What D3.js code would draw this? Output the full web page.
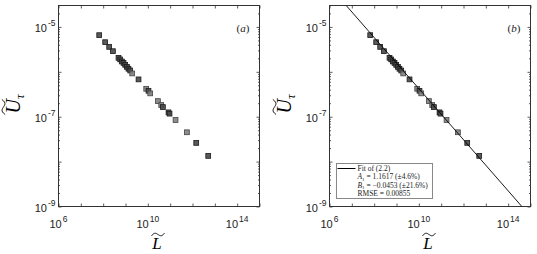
<!DOCTYPE html>
<html>
<head>
<meta charset="utf-8">
<script src="https://cdn.jsdelivr.net/npm/d3@7"></script>
<style>
  body { margin: 0; background: #fff; }
  svg { display: block; }
</style>
</head>
<body>
<div id="chart-container"></div>
<script>
// 数据: 无量纲长度 L~ 与速度 U~_tau
const L = [6.65e7, 1.23e8, 1.86e8, 2.73e8, 4.86e8, 5.79e8, 6.90e8, 8.15e8, 9.70e8,
           1.16e9, 1.36e9, 1.63e9, 2.0e9, 3.83e9, 8.46e9, 1.07e10, 1.28e10, 2.83e10,
           3.97e10, 4.73e10, 8.43e10, 9.35e10, 1.74e11, 5.62e11, 1.47e12, 5.06e12];
const U = [6.55e-6, 4.57e-6, 3.59e-6, 2.88e-6, 2.05e-6, 1.89e-6, 1.70e-6, 1.58e-6, 1.43e-6,
           1.29e-6, 1.17e-6, 1.07e-6, 9.2e-7, 6.78e-7, 4.19e-7, 3.78e-7, 3.31e-7, 2.23e-7,
           1.82e-7, 1.64e-7, 1.25e-7, 1.17e-7, 8.45e-8, 4.5e-8, 2.61e-8, 1.34e-8];
// 数据来源分组 (0 / 1)
const source = [0, 0, 0, 0, 0, 0, 0, 0, 0, 0, 0, 0, 1, 0, 1, 0, 1, 1, 1, 0, 0, 0, 1, 1, 0, 0];

// 拟合直线端点
const fitL = [5.6e6, 4.1e14];
const fitU = [3e-5, 1e-9];

// 刻度
const xTicks = [1e6, 1e7, 1e8, 1e9, 1e10, 1e11, 1e12, 1e13, 1e14, 1e15];
const xTickLabels = [6, 10, 14];
const yTicks = [1e-9, 1e-8, 1e-7, 1e-6, 1e-5];
const yTickLabels = [-9, -7, -5];

// 图例文字
const legendLines = ["Fit of (2.2)", "A|1| = 1.1617 (±4.6%)", "B|1| = −0.0453 (±21.6%)", "RMSE = 0.00855"];

const width = 537;
const height = 254;

const svg = d3.select("#chart-container")
    .append("svg")
    .attr("width", width)
    .attr("height", height);

const points = L.map((d, i) => ({ L: d, U: U[i], g: source[i] }));
const fitData = fitL.map((d, i) => ({ L: d, U: fitU[i] }));

const fillColor = d3.scaleOrdinal().domain([0, 1]).range(["#474747", "#808080"]);
const edgeColor = d3.scaleOrdinal().domain([0, 1]).range(["#1a1a1a", "#444"]);

const sans = "'Liberation Sans', Arial, sans-serif";
const serif = "'Liberation Serif', 'Times New Roman', serif";

// 画一个宽波浪号 (widetilde)
function tilde(parent, cx, cy, w) {
    const h = w * 0.18;
    parent.append("path")
        .attr("d", "M" + (cx - w / 2) + "," + (cy + h * 0.6) +
            " C" + (cx - w / 4) + "," + (cy - h * 1.4) + " " + (cx - w / 12) + "," + (cy - h * 0.2) + " " + cx + "," + cy +
            " S" + (cx + w / 4) + "," + (cy + h * 1.4) + " " + (cx + w / 2) + "," + (cy - h * 0.6))
        .attr("fill", "none")
        .attr("stroke", "#000")
        .attr("stroke-width", 0.9);
}

function drawPanel(left, tag, withFit) {
    const top = 5.5;
    const size = 201;

    const xScale = d3.scaleLog().domain([1e6, 1e15]).range([left, left + size]);
    const yScale = d3.scaleLog().domain([1e-9, 3e-5]).range([top + size, top]);

    const g = svg.append("g");

    // 裁剪区域
    const clipId = "clip-" + tag;
    g.append("clipPath").attr("id", clipId)
        .append("rect")
        .attr("x", left).attr("y", top)
        .attr("width", size).attr("height", size);

    // 坐标轴 (刻度朝内, 四边)
    g.append("g")
        .attr("transform", "translate(0," + (top + size) + ")")
        .call(d3.axisTop(xScale).tickValues(xTicks).tickSize(3).tickFormat(""));
    g.append("g")
        .attr("transform", "translate(0," + top + ")")
        .call(d3.axisBottom(xScale).tickValues(xTicks).tickSize(3).tickFormat(""));
    g.append("g")
        .attr("transform", "translate(" + left + ",0)")
        .call(d3.axisRight(yScale).tickValues(yTicks).tickSize(3).tickFormat(""));
    g.append("g")
        .attr("transform", "translate(" + (left + size) + ",0)")
        .call(d3.axisLeft(yScale).tickValues(yTicks).tickSize(3).tickFormat(""));

    // y 次刻度
    const minor = [];
    yTicks.slice(0, -1).forEach(t => { for (let k = 2; k <= 9; k++) minor.push(t * k); });
    minor.push(2e-5);
    g.append("g")
        .attr("transform", "translate(" + left + ",0)")
        .call(d3.axisRight(yScale).tickValues(minor).tickSize(1.5).tickFormat(""));
    g.append("g")
        .attr("transform", "translate(" + (left + size) + ",0)")
        .call(d3.axisLeft(yScale).tickValues(minor).tickSize(1.5).tickFormat(""));

    g.selectAll(".domain").remove();
    g.selectAll(".tick line").attr("stroke", "#333").attr("stroke-width", 0.8);

    g.append("rect")
        .attr("x", left).attr("y", top)
        .attr("width", size).attr("height", size)
        .attr("fill", "none")
        .attr("stroke", "#333")
        .attr("stroke-width", 1);

    // x 刻度标签
    xTickLabels.forEach(e => {
        const t = g.append("text")
            .attr("x", xScale(Math.pow(10, e)))
            .attr("y", 228)
            .attr("text-anchor", "middle")
            .attr("font-family", sans)
            .attr("font-size", 11)
            .attr("fill", "#222");
        t.append("tspan").text("10");
        t.append("tspan").attr("dx", 1).attr("dy", -6).attr("font-size", 8.5).text(e);
    });

    // y 刻度标签
    yTickLabels.forEach(e => {
        const t = g.append("text")
            .attr("x", left - 3)
            .attr("y", yScale(Math.pow(10, e)) + 5)
            .attr("text-anchor", "end")
            .attr("font-family", sans)
            .attr("font-size", 11)
            .attr("fill", "#222");
        t.append("tspan").text("10");
        t.append("tspan").attr("dx", 1).attr("dy", -6).attr("font-size", 8.5).text(e);
    });

    // x 轴标题 L~
    const cx = left + size / 2 - 2;
    g.append("text")
        .attr("x", cx).attr("y", 249)
        .attr("text-anchor", "middle")
        .attr("font-family", serif)
        .attr("font-style", "italic")
        .attr("font-size", 17)
        .text("L");
    tilde(g, cx + 1, 234.5, 13);

    // y 轴标题 U~_tau
    const cy = top + size / 2 - 2;
    const yl = g.append("g")
        .attr("transform", "translate(" + (left - 39) + "," + cy + ") rotate(-90)");
    const yt = yl.append("text")
        .attr("x", 0).attr("y", 0)
        .attr("text-anchor", "middle")
        .attr("font-family", serif)
        .attr("font-size", 20);
    yt.append("tspan").attr("font-style", "italic").text("U");
    yt.append("tspan").attr("dy", 4).attr("font-size", 13).attr("font-style", "italic").text("τ");
    tilde(yl, -3, -16, 15);

    // 面板编号
    const pl = g.append("text")
        .attr("x", left + size - 23)
        .attr("y", 32)
        .attr("font-family", serif)
        .attr("font-size", 11)
        .attr("fill", "#222");
    pl.append("tspan").text("(");
    pl.append("tspan").attr("font-style", "italic").text(tag);
    pl.append("tspan").text(")");

    const plot = g.append("g").attr("clip-path", "url(#" + clipId + ")");

    // 数据点 (方块)
    const s = 4.8;
    plot.selectAll("rect.pt")
        .data(points)
        .enter()
        .append("rect")
        .attr("class", "pt")
        .attr("x", d => xScale(d.L) - s / 2)
        .attr("y", d => yScale(d.U) - s / 2)
        .attr("width", s)
        .attr("height", s)
        .attr("fill", d => fillColor(d.g))
        .attr("fill-opacity", 0.9)
        .attr("stroke", d => edgeColor(d.g))
        .attr("stroke-width", 0.8);

    // 拟合直线
    if (withFit) {
        const line = d3.line()
            .x(d => xScale(d.L))
            .y(d => yScale(d.U));
        plot.append("path")
            .datum(fitData)
            .attr("fill", "none")
            .attr("stroke", "#000")
            .attr("stroke-width", 0.9)
            .attr("d", line);

        // 图例
        const lg = g.append("g");
        lg.append("rect")
            .attr("x", left + 7).attr("y", 163.5)
            .attr("width", 96).attr("height", 35)
            .attr("fill", "#fff")
            .attr("stroke", "#888")
            .attr("stroke-width", 1);
        lg.append("line")
            .attr("x1", left + 8).attr("x2", left + 26)
            .attr("y1", 168.5).attr("y2", 168.5)
            .attr("stroke", "#000").attr("stroke-width", 1);
        legendLines.forEach((txt, i) => {
            const t = lg.append("text")
                .attr("x", left + 28)
                .attr("y", 171 + i * 8.3)
                .attr("font-family", serif)
                .attr("font-size", 7.5)
                .attr("fill", "#222");
            const parts = txt.split("|");
            if (parts.length === 3) {
                t.append("tspan").attr("font-style", "italic").text(parts[0]);
                t.append("tspan").attr("font-size", 5).attr("dy", 1.5).text(parts[1]);
                t.append("tspan").attr("dy", -1.5).text(parts[2]);
            } else {
                t.text(txt);
            }
        });
    }
}

drawPanel(58.5, "a", false);
drawPanel(329.5, "b", true);
</script>
</body>
</html>
